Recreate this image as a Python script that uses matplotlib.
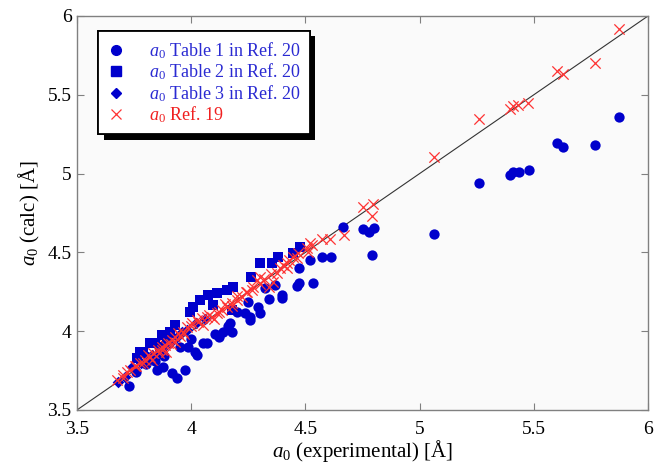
import matplotlib
matplotlib.use("Agg")
import matplotlib.pyplot as plt
import matplotlib.patheffects as pe

plt.rcParams['font.family'] = ['Liberation Serif', 'DejaVu Serif']
plt.rcParams['mathtext.fontset'] = 'custom'
plt.rcParams['mathtext.it'] = 'Liberation Serif:italic'
plt.rcParams['mathtext.rm'] = 'Liberation Serif'

# Table 1 in Ref. 20 (circles)
t1_x = [3.729, 3.849, 3.878, 3.915, 3.937, 3.973, 3.987, 4.017, 4.027, 4.053,
        4.068, 4.104, 4.123, 4.141, 4.162, 4.170, 4.177, 4.236, 4.257, 4.250,
        4.294, 4.301, 4.323, 4.342, 4.396, 4.367, 4.396, 4.462, 4.473, 4.532,
        4.473, 4.520, 4.571, 4.611, 4.666, 4.751, 4.780, 4.800, 4.790, 5.064,
        5.261, 5.396, 5.410, 5.437, 5.478, 5.603, 5.629, 5.769, 5.874,
        3.760, 3.800, 3.840, 3.880, 3.950, 4.000, 4.200, 4.257]
t1_y = [3.652, 3.754, 3.771, 3.733, 3.701, 3.754, 3.902, 3.870, 3.849, 3.923,
        3.927, 3.982, 3.965, 3.997, 4.033, 4.054, 3.997, 4.114, 4.092, 4.187,
        4.155, 4.114, 4.273, 4.204, 4.209, 4.295, 4.230, 4.287, 4.304, 4.304,
        4.399, 4.452, 4.473, 4.473, 4.663, 4.647, 4.631, 4.653, 4.484, 4.617,
        4.939, 4.991, 5.012, 5.012, 5.023, 5.196, 5.171, 5.181, 5.361,
        3.740, 3.790, 3.810, 3.840, 3.900, 3.950, 4.120, 4.071]

# Table 2 in Ref. 20 (squares)
t2_x = [4.301, 4.352, 4.381, 4.476, 4.444, 4.260, 4.184, 4.155, 4.112, 4.075,
        4.039, 4.009, 3.995, 4.097, 4.177, 3.929, 3.907, 3.871, 3.820, 3.842,
        3.776, 3.790, 3.761, 3.863, 3.893]
t2_y = [4.431, 4.431, 4.469, 4.532, 4.494, 4.346, 4.282, 4.261, 4.244, 4.230,
        4.198, 4.155, 4.124, 4.166, 4.135, 4.039, 3.997, 3.976, 3.923, 3.927,
        3.870, 3.860, 3.828, 3.902, 3.944]

# Table 3 in Ref. 20 (diamonds)
t3_x = [3.681, 3.710, 3.739, 3.812, 3.863, 3.907, 3.937, 3.958, 3.980, 3.750,
        3.780, 3.830, 3.880, 4.020, 4.060]
t3_y = [3.680, 3.711, 3.775, 3.838, 3.860, 3.923, 3.965, 3.997, 4.008, 3.760,
        3.800, 3.850, 3.900, 4.050, 4.080]

# Ref. 19 (crosses)
r19_x = [3.674, 3.703, 3.732, 3.754, 3.776, 3.798, 3.820, 3.834, 3.856, 3.871,
         3.885, 3.900, 3.915, 3.929, 3.944, 3.963, 3.980, 4.002, 4.024, 4.046,
         4.068, 4.090, 4.112, 4.134, 4.155, 4.177, 4.199, 4.221, 4.243, 4.265,
         4.287, 4.301, 4.374, 4.389, 4.418, 4.447, 4.469, 4.506, 4.528, 4.571,
         4.608, 4.669, 4.751, 4.790, 4.797, 5.063, 5.261, 5.396, 5.410, 5.432,
         5.476, 5.603, 5.629, 5.769, 5.874,
         3.790, 3.810, 3.830, 3.860, 3.870, 3.890, 3.910, 3.930, 3.950, 3.970,
         4.000, 4.030, 4.050, 4.080, 4.100, 4.120, 4.150, 4.180, 4.200, 4.240,
         4.270, 4.300, 4.320, 4.350, 4.400, 4.430, 3.760, 3.720, 3.700, 4.340,
         4.360, 4.420, 4.510, 4.520, 4.462]
r19_y = [3.690, 3.722, 3.754, 3.779, 3.796, 3.817, 3.838, 3.864, 3.881, 3.902,
         3.912, 3.923, 3.944, 3.965, 3.990, 3.997, 4.029, 4.050, 4.071, 4.082,
         4.092, 4.092, 4.114, 4.135, 4.155, 4.177, 4.198, 4.219, 4.251, 4.261,
         4.325, 4.346, 4.367, 4.399, 4.431, 4.473, 4.494, 4.526, 4.547, 4.583,
         4.583, 4.610, 4.786, 4.731, 4.805, 5.107, 5.346, 5.408, 5.429, 5.435,
         5.450, 5.653, 5.630, 5.700, 5.918,
         3.800, 3.850, 3.820, 3.860, 3.880, 3.870, 3.920, 3.930, 3.970, 3.980,
         4.030, 4.060, 4.040, 4.100, 4.080, 4.120, 4.170, 4.160, 4.220, 4.250,
         4.280, 4.300, 4.330, 4.360, 4.420, 4.450, 3.780, 3.740, 3.700, 4.280,
         4.310, 4.400, 4.500, 4.558, 4.463]

labels = [r'$a_0$ Table 1 in Ref. 20', r'$a_0$ Table 2 in Ref. 20',
          r'$a_0$ Table 3 in Ref. 20', r'$a_0$ Ref. 19']
xticks = [3.5, 4, 4.5, 5, 5.5, 6]
yticks = [3.5, 4, 4.5, 5, 5.5, 6]
ticklabels = ['3.5', '4', '4.5', '5', '5.5', '6']

blue = '#0000cc'
red = '#ff3333'
blue_text = '#2a2ad2'
red_text = '#f02020'

fig = plt.figure(figsize=(6.54, 4.68), dpi=100)
ax = fig.add_axes([0.1177, 0.124, 0.8733, 0.842])
ax.set_facecolor('#fafafa')

ax.plot([3.5, 6], [3.5, 6], color='#333333', lw=0.8, zorder=1)
ax.scatter(t1_x, t1_y, s=55, marker='o', color=blue, zorder=2, linewidths=0)
ax.scatter(t2_x, t2_y, s=55, marker='s', color=blue, zorder=2, linewidths=0)
ax.scatter(t3_x, t3_y, s=35, marker='D', color=blue, zorder=2, linewidths=0)
ax.scatter(r19_x, r19_y, s=55, marker='x', color=red, zorder=3, linewidths=0.9)

ax.set_xlim(3.5, 6)
ax.set_ylim(3.5, 6)
ax.set_xticks(xticks)
ax.set_xticklabels(ticklabels)
ax.set_yticks(yticks)
ax.set_yticklabels(ticklabels)
ax.tick_params(direction='in', top=True, right=True, length=5, width=0.8,
               color='#808080', labelsize=14)
ax.tick_params(axis='x', pad=8)
ax.tick_params(axis='y', pad=4)
for s in ax.spines.values():
    s.set_color('#808080')
    s.set_linewidth(1.0)

ax.set_xlabel(r'$a_0$ (experimental) [Å]', fontsize=15, labelpad=0)
ax.set_ylabel(r'$a_0$ (calc) [Å]', fontsize=15, labelpad=4)

leg_handles = [
    plt.Line2D([], [], ls='none', marker='o', color=blue, markersize=7),
    plt.Line2D([], [], ls='none', marker='s', color=blue, markersize=7),
    plt.Line2D([], [], ls='none', marker='D', color=blue, markersize=5),
    plt.Line2D([], [], ls='none', marker='x', color=red, markersize=7, mew=0.9),
]
leg = ax.legend(leg_handles, labels, loc='upper left',
                bbox_to_anchor=(0.037, 0.962), borderaxespad=0,
                fontsize=13,
                labelcolor=[blue_text, blue_text, blue_text, red_text],
                frameon=True, fancybox=False, edgecolor='black',
                framealpha=1, facecolor='white', handlelength=1.0,
                handletextpad=1.3, labelspacing=0.05, borderpad=0.5)
frame = leg.get_frame()
frame.set_linewidth(1.3)
frame.set_path_effects([pe.withSimplePatchShadow(offset=(4, -4), shadow_rgbFace='black', alpha=1.0),
                        pe.Normal()])

fig.savefig('out.png', dpi=100)
